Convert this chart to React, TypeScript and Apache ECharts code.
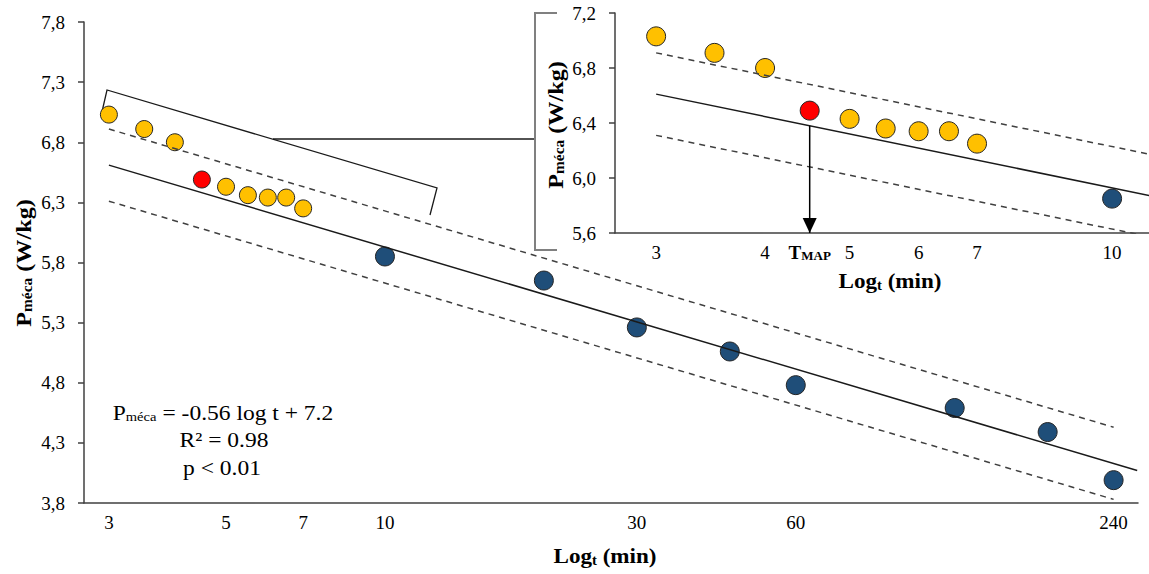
import React, { useEffect, useRef } from 'react';
import * as echarts from 'echarts';

// ---- data (t in minutes, P_méca in W/kg) ----
const yellowT = [3, 3.5, 4, 5, 5.5, 6, 6.5, 7];
const yellowP = [7.03, 6.91, 6.8, 6.43, 6.36, 6.34, 6.34, 6.25];
const redT = [4.5];
const redP = [6.49];
const blueT = [10, 20, 30, 45, 60, 120, 180, 240];
const blueP = [5.85, 5.65, 5.26, 5.06, 4.78, 4.59, 4.39, 3.99];

// regression line and prediction band
const fitT = [3, 266];
const fitP = [6.61, 4.07];
const upperT = [3, 240];
const upperP = [6.91, 4.43];
const lowerT = [3, 240];
const lowerP = [6.31, 3.83];

// T_MAP arrow (from the fit line down to the inset x axis)
const tmapT = 4.5;
const tmapP = [6.38, 5.6];

// tick labels
const mainXTicks = [3, 5, 7, 10, 30, 60, 240];
const mainXLabels = ['3', '5', '7', '10', '30', '60', '240'];
const mainYTicks = [3.8, 4.3, 4.8, 5.3, 5.8, 6.3, 6.8, 7.3, 7.8];
const insetXTicks = [3, 4, 4.5, 5, 6, 7, 10];
const insetXLabels = ['3', '4', '{t|T}{s|MAP}', '5', '6', '7', '10'];
const insetYTicks = [5.6, 6.0, 6.4, 6.8, 7.2];

const SERIF = '"Liberation Serif", "Times New Roman", serif';
const YELLOW = '#FFC000';
const RED = '#FF0000';
const BLUE = '#1F4E79';
const EDGE = '#262626';

const pts = (ts: number[], ps: number[], maxT = Infinity) =>
  ts.map((t, i) => [Math.log(t), ps[i]]).filter((d) => Math.exp(d[0]) <= maxT + 1e-9);

const labelFor = (ticks: number[], labels: string[]) => (v: number) => {
  let best = 0;
  let bd = Infinity;
  ticks.forEach((t, i) => {
    const d = Math.abs(Math.log(t) - v);
    if (d < bd) { bd = d; best = i; }
  });
  return labels[best];
};

const commaFmt = (v: number) => v.toFixed(1).replace('.', ',');

export default function App() {
  const ref = useRef<HTMLDivElement>(null);

  useEffect(() => {
    if (!ref.current) return;
    const chart = echarts.init(ref.current, undefined, { renderer: 'svg' });

    const axisLine = { show: true, lineStyle: { color: '#404040', width: 1.5 } };
    const tickLabel = { fontFamily: SERIF, fontSize: 19, color: '#000' };

    const scatter = (grid: number, ts: number[], ps: number[], color: string, size: number, maxT = Infinity) => ({
      type: 'scatter',
      xAxisIndex: grid,
      yAxisIndex: grid,
      data: pts(ts, ps, maxT),
      symbol: 'circle',
      symbolSize: size,
      itemStyle: { color, borderColor: EDGE, borderWidth: 1, opacity: 1 },
      z: 2,
      silent: true,
    });

    const line = (grid: number, ts: number[], ps: number[], dashed: boolean) => ({
      type: 'line',
      xAxisIndex: grid,
      yAxisIndex: grid,
      data: pts(ts, ps),
      symbol: 'none',
      clip: true,
      lineStyle: dashed
        ? { color: '#404040', width: 1.5, type: [6, 5] }
        : { color: '#1a1a1a', width: 1.5, type: 'solid' },
      z: 3,
      silent: true,
    });

    const subRich = (size: number, bold: boolean) => ({
      a: { fontFamily: SERIF, fontSize: size, fontWeight: bold ? 'bold' : 'normal', fill: '#000' },
      b: {
        fontFamily: SERIF,
        fontSize: Math.round(size * 0.62),
        fontWeight: bold ? 'bold' : 'normal',
        fill: '#000',
        verticalAlign: 'bottom',
        padding: [Math.round(size * 0.3), 0, 0, 0],
      },
    });

    const richText = (x: number, y: number, text: string, size: number, bold: boolean, rotation = 0, scaleX = 1) => ({
      type: 'text',
      x,
      y,
      rotation,
      scaleX,
      style: { text, align: 'center', verticalAlign: 'middle', rich: subRich(size, bold) },
      silent: true,
    });

    const option: any = {
      animation: false,
      backgroundColor: '#ffffff',
      grid: [
        { left: 84, right: 11, top: 22, bottom: 71, containLabel: false },
        { left: 615, right: 0, top: 13, bottom: 341, containLabel: false },
      ],
      xAxis: [
        {
          gridIndex: 0,
          type: 'value',
          min: 0.99,
          max: 5.587,
          axisLine,
          axisTick: { show: false },
          splitLine: { show: false },
          axisLabel: {
            ...tickLabel,
            margin: 10,
            customValues: mainXTicks.map((t) => Math.log(t)),
            formatter: labelFor(mainXTicks, mainXLabels),
          },
        },
        {
          gridIndex: 1,
          type: 'value',
          min: 0.99,
          max: 2.4,
          axisLine,
          axisTick: { show: false },
          splitLine: { show: false },
          axisLabel: {
            ...tickLabel,
            margin: 10,
            customValues: insetXTicks.map((t) => Math.log(t)),
            formatter: labelFor(insetXTicks, insetXLabels),
            rich: {
              t: { fontFamily: SERIF, fontSize: 19, fontWeight: 'bold', color: '#000' },
              s: { fontFamily: SERIF, fontSize: 13, fontWeight: 'bold', color: '#000', verticalAlign: 'bottom', padding: [6, 0, 0, 0] },
            },
          },
        },
      ],
      yAxis: [
        {
          gridIndex: 0,
          type: 'value',
          min: 3.8,
          max: 7.8,
          axisLine,
          axisTick: { show: true, length: 6, lineStyle: { color: '#404040', width: 1.5 }, customValues: mainYTicks },
          splitLine: { show: false },
          axisLabel: { ...tickLabel, margin: 19, customValues: mainYTicks, formatter: commaFmt },
        },
        {
          gridIndex: 1,
          type: 'value',
          min: 5.6,
          max: 7.2,
          axisLine,
          axisTick: { show: true, length: 6, lineStyle: { color: '#404040', width: 1.5 }, customValues: insetYTicks },
          splitLine: { show: false },
          axisLabel: { ...tickLabel, margin: 19, customValues: insetYTicks, formatter: commaFmt },
        },
      ],
      series: [
        // main chart
        scatter(0, yellowT, yellowP, YELLOW, 17),
        scatter(0, redT, redP, RED, 17),
        scatter(0, blueT, blueP, BLUE, 19),
        line(0, fitT, fitP, false),
        line(0, upperT, upperP, true),
        line(0, lowerT, lowerP, true),
        // inset (zoom on the first minutes)
        scatter(1, yellowT, yellowP, YELLOW, 19, 10),
        scatter(1, redT, redP, RED, 19, 10),
        scatter(1, blueT, blueP, BLUE, 19, 10),
        line(1, fitT, fitP, false),
        line(1, upperT, upperP, true),
        line(1, lowerT, lowerP, true),
        // T_MAP arrow shaft
        {
          type: 'line',
          xAxisIndex: 1,
          yAxisIndex: 1,
          data: tmapP.map((p) => [Math.log(tmapT), p]),
          symbol: 'none',
          lineStyle: { color: '#000', width: 1.5 },
          z: 4,
          silent: true,
        },
        // T_MAP arrow head
        {
          type: 'scatter',
          xAxisIndex: 1,
          yAxisIndex: 1,
          data: [[Math.log(tmapT), tmapP[1]]],
          symbol: 'triangle',
          symbolSize: [14, 15],
          symbolRotate: 180,
          symbolOffset: [0, -7.5],
          itemStyle: { color: '#000', opacity: 1 },
          z: 5,
          silent: true,
        },
      ],
      graphic: [
        // bracket around the first points in the main chart
        {
          type: 'polyline',
          shape: { points: [[101, 116], [107, 90], [437, 188], [430, 215]] },
          style: { stroke: '#1a1a1a', lineWidth: 1.3, fill: 'none' },
          silent: true,
        },
        {
          type: 'line',
          shape: { x1: 273, y1: 139, x2: 535, y2: 139 },
          style: { stroke: '#1a1a1a', lineWidth: 1.3 },
          silent: true,
        },
        // bracket on the left of the inset
        {
          type: 'polyline',
          shape: { points: [[557, 13], [535, 13], [535, 250], [557, 250]] },
          style: { stroke: '#808080', lineWidth: 2, fill: 'none' },
          silent: true,
        },
        // axis titles
        richText(605, 556, '{a|Log}{b|t}{a| (min)}', 22, true, 0, 1.05),
        richText(890, 281, '{a|Log}{b|t}{a| (min)}', 22, true, 0, 1.05),
        richText(23, 263, '{a|P}{b|méca}{a| (W/kg)}', 22, true, Math.PI / 2, 1.1),
        richText(555, 125, '{a|P}{b|méca}{a| (W/kg)}', 22, true, Math.PI / 2, 1.1),
        // regression equation
        richText(223, 413, '{a|P}{b|méca}{a| = -0.56 log t + 7.2}', 21, false, 0, 1.12),
        richText(224, 440, '{a|R² = 0.98}', 21, false, 0, 1.12),
        richText(222, 468, '{a|p < 0.01}', 21, false, 0, 1.12),
      ],
    };

    chart.setOption(option);
    return () => chart.dispose();
  }, []);

  return (
    <div
      ref={ref}
      style={{ position: 'fixed', left: 0, top: 0, width: 1149, height: 574, background: '#fff' }}
    />
  );
}
